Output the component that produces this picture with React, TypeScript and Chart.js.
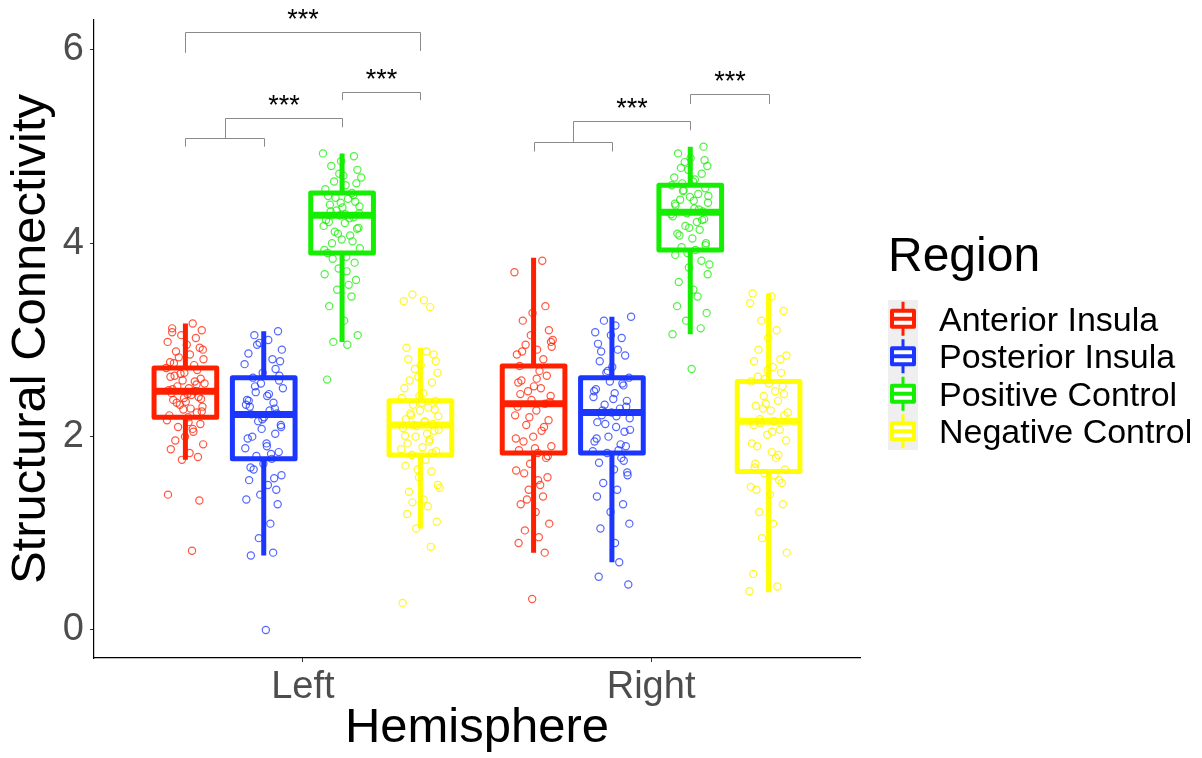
import React, { useEffect, useRef } from 'react';
import { Chart, registerables } from 'chart.js';

Chart.register(...registerables);

const hemispheres = ['Left', 'Right'];
const regions = ['Anterior Insula', 'Posterior Insula', 'Positive Control', 'Negative Control'];
const regionColors = ['#ff2000', '#1a36ff', '#14ee00', '#ffff00'];
const pointColors = ['rgba(255,32,0,0.75)', 'rgba(26,54,255,0.75)', 'rgba(20,238,0,0.75)', 'rgba(255,245,0,0.85)'];
const dodgeOffsets = [-0.3375, -0.1125, 0.1125, 0.3375];
const yTicks = [0, 2, 4, 6];

// box statistics, [region][hemisphere]
const whiskerLow = [[1.76, 0.80], [0.77, 0.70], [2.98, 3.06], [1.05, 0.39]];
const quartile1 = [[2.20, 1.83], [1.77, 1.83], [3.90, 3.93], [1.81, 1.64]];
const medians = [[2.47, 2.34], [2.23, 2.25], [4.29, 4.32], [2.12, 2.16]];
const quartile3 = [[2.71, 2.73], [2.61, 2.61], [4.52, 4.60], [2.37, 2.57]];
const whiskerHigh = [[3.17, 3.85], [3.09, 3.24], [4.93, 5.00], [2.92, 3.48]];

// individual observations
const leftAnterior = [3.17, 3.12, 3.10, 3.05, 3.02, 2.98, 2.95, 2.92, 2.88, 2.85, 2.82, 2.80, 2.77, 2.74, 2.71, 2.69, 2.66, 2.63, 2.60, 2.58, 2.55, 2.52, 2.50, 2.48, 2.47, 2.45, 2.43, 2.41, 2.38, 2.36, 2.33, 2.31, 2.28, 2.25, 2.22, 2.20, 2.17, 2.13, 2.10, 2.05, 2.00, 1.96, 1.92, 1.87, 1.83, 1.79, 1.76, 1.40, 1.34, 0.82, 2.65, 2.57, 2.49, 2.44, 2.39, 2.35, 2.29, 2.62, 2.54, 2.40, 2.90, 2.76, 2.15, 2.08, 3.08, 2.26];
const rightAnterior = [3.82, 3.70, 3.35, 3.28, 3.20, 3.10, 3.05, 3.00, 2.95, 2.90, 2.85, 2.80, 2.73, 2.68, 2.63, 2.58, 2.52, 2.47, 2.42, 2.38, 2.34, 2.31, 2.27, 2.22, 2.17, 2.12, 2.06, 2.00, 1.95, 1.90, 1.86, 1.83, 1.78, 1.72, 1.65, 1.58, 1.50, 1.45, 1.38, 1.30, 1.22, 1.10, 1.03, 0.96, 0.90, 0.80, 0.32, 2.98, 2.88, 2.60, 2.50, 2.44, 2.36, 2.20, 2.10, 1.98, 1.88, 1.80, 1.62, 1.55, 1.35, 2.93, 2.56];
const leftPosterior = [3.09, 3.05, 3.00, 2.95, 2.90, 2.86, 2.80, 2.75, 2.70, 2.66, 2.61, 2.58, 2.55, 2.50, 2.46, 2.42, 2.38, 2.35, 2.31, 2.27, 2.24, 2.23, 2.20, 2.16, 2.12, 2.08, 2.03, 1.98, 1.93, 1.88, 1.84, 1.80, 1.77, 1.72, 1.66, 1.60, 1.55, 1.50, 1.45, 1.40, 1.35, 1.30, 1.10, 0.95, 0.80, 0.77, 0.00, 2.63, 2.52, 2.44, 2.37, 2.29, 2.18, 2.10, 2.00, 1.90, 1.82, 1.68, 2.78, 2.97, 1.57, 2.33];
const rightPosterior = [3.24, 3.20, 3.15, 3.08, 3.02, 2.96, 2.90, 2.84, 2.78, 2.72, 2.66, 2.61, 2.57, 2.53, 2.49, 2.45, 2.41, 2.37, 2.33, 2.29, 2.25, 2.22, 2.19, 2.15, 2.10, 2.05, 2.00, 1.95, 1.90, 1.86, 1.83, 1.78, 1.73, 1.66, 1.60, 1.52, 1.45, 1.38, 1.30, 1.22, 1.10, 1.05, 0.90, 0.70, 0.55, 0.47, 2.68, 2.55, 2.47, 2.39, 2.31, 2.27, 2.21, 2.13, 2.07, 1.98, 1.92, 1.85, 1.75, 3.05, 2.88, 1.63];
const leftPositive = [4.93, 4.90, 4.85, 4.80, 4.76, 4.72, 4.68, 4.64, 4.60, 4.56, 4.52, 4.49, 4.46, 4.43, 4.40, 4.37, 4.34, 4.31, 4.29, 4.27, 4.24, 4.21, 4.18, 4.15, 4.12, 4.08, 4.04, 4.00, 3.95, 3.90, 3.86, 3.80, 3.74, 3.68, 3.62, 3.57, 3.52, 3.45, 3.35, 3.20, 3.05, 2.98, 2.95, 2.59, 4.50, 4.42, 4.38, 4.33, 4.30, 4.26, 4.22, 4.16, 4.10, 4.02, 3.93, 4.70, 4.62, 3.84, 3.71, 4.47];
const rightPositive = [5.00, 4.93, 4.88, 4.84, 4.80, 4.76, 4.72, 4.68, 4.64, 4.60, 4.57, 4.54, 4.51, 4.48, 4.45, 4.42, 4.39, 4.36, 4.33, 4.31, 4.28, 4.25, 4.22, 4.18, 4.14, 4.10, 4.05, 4.00, 3.96, 3.93, 3.88, 3.82, 3.75, 3.68, 3.60, 3.52, 3.45, 3.35, 3.28, 3.20, 3.12, 3.06, 2.70, 4.86, 4.78, 4.66, 4.55, 4.49, 4.41, 4.35, 4.30, 4.24, 4.16, 4.08, 3.98, 3.90, 3.78, 4.62, 4.44];
const leftNegative = [3.47, 3.41, 3.40, 3.34, 2.92, 2.88, 2.85, 2.80, 2.74, 2.70, 2.66, 2.62, 2.56, 2.50, 2.45, 2.40, 2.37, 2.33, 2.30, 2.27, 2.24, 2.21, 2.18, 2.15, 2.13, 2.11, 2.09, 2.06, 2.03, 2.00, 1.97, 1.93, 1.89, 1.85, 1.81, 1.76, 1.70, 1.64, 1.58, 1.50, 1.43, 1.35, 1.28, 1.20, 1.12, 1.05, 0.86, 0.28, 2.35, 2.28, 2.22, 2.16, 2.12, 2.07, 2.01, 1.95, 1.87, 1.83, 2.42, 2.58, 2.78, 1.66, 1.47, 1.32];
const rightNegative = [3.48, 3.45, 3.38, 3.30, 3.20, 3.10, 3.02, 2.90, 2.84, 2.78, 2.72, 2.66, 2.60, 2.57, 2.52, 2.47, 2.42, 2.37, 2.32, 2.27, 2.22, 2.18, 2.16, 2.12, 2.07, 2.02, 1.96, 1.90, 1.84, 1.78, 1.72, 1.66, 1.62, 1.55, 1.48, 1.40, 1.30, 1.22, 1.10, 0.95, 0.80, 0.58, 0.45, 0.40, 2.80, 2.69, 2.62, 2.44, 2.34, 2.25, 2.14, 2.05, 1.93, 1.81, 1.68, 1.60, 1.52, 1.45, 2.55, 2.29];
const pointsByRegion = [
  [leftAnterior, rightAnterior],
  [leftPosterior, rightPosterior],
  [leftPositive, rightPositive],
  [leftNegative, rightNegative],
];
// horizontal jitter of the observations (hemisphere units)
const jitter = [0.021, -0.038, 0.047, -0.012, 0.030, -0.051, 0.004, 0.041, -0.027, 0.013, -0.019, 0.052, -0.044, 0.025, -0.055, 0.034, -0.003, -0.031, 0.044, -0.008, 0.055, -0.023, 0.010, -0.048, 0.028, -0.040, 0.017, 0.038, -0.035, 0.001, -0.016, 0.049, -0.006, 0.033, -0.046, 0.008, -0.053, 0.043, -0.021, 0.023, -0.001, -0.029, 0.051, -0.042, 0.012, 0.036, -0.010, -0.050, 0.040, 0.019, -0.014, 0.027, -0.037, 0.006, 0.045, -0.025, 0.015, -0.043, 0.032, -0.004, 0.050, -0.033, 0.009];

// significance brackets (region index along the dodge, y in data units)
const bracketHemi = [0, 0, 0, 0, 1, 1, 1];
const bracketFrom = [0, 0.5, 2, 0, 0, 0.5, 2];
const bracketTo = [1, 2, 3, 3, 1, 2, 3];
const bracketY = [5.09, 5.30, 5.57, 6.19, 5.05, 5.26, 5.54];
const bracketLeftEnd = [5.00, 5.09, 5.48, 5.97, 4.95, 5.05, 5.44];
const bracketRightEnd = [5.00, 5.20, 5.48, 5.99, 4.95, 5.17, 5.44];
const bracketLabel = ['', '***', '***', '***', '', '***', '***'];

const FONT = "'Liberation Sans', Arial, Helvetica, sans-serif";
const boxWidth = 0.18;

const dodgeAt = (r: number) => dodgeOffsets[0] + r * (dodgeOffsets[1] - dodgeOffsets[0]);

const boxPlugin = {
  id: 'boxes',
  beforeDatasetsDraw(chart: any) {
    const { ctx, scales } = chart;
    const x = scales.x;
    const y = scales.y;
    ctx.save();
    const half = (x.getPixelForValue(boxWidth) - x.getPixelForValue(0)) / 2;
    regions.forEach((_, r) => {
      hemispheres.forEach((_, h) => {
        const cx = x.getPixelForValue(h + 1 + dodgeOffsets[r]);
        const pLow = y.getPixelForValue(whiskerLow[r][h]);
        const pQ1 = y.getPixelForValue(quartile1[r][h]);
        const pMed = y.getPixelForValue(medians[r][h]);
        const pQ3 = y.getPixelForValue(quartile3[r][h]);
        const pHigh = y.getPixelForValue(whiskerHigh[r][h]);
        ctx.strokeStyle = regionColors[r];
        ctx.lineCap = 'butt';
        ctx.lineJoin = 'round';
        ctx.lineWidth = 5;
        ctx.beginPath();
        ctx.moveTo(cx, pHigh);
        ctx.lineTo(cx, pQ3);
        ctx.moveTo(cx, pQ1);
        ctx.lineTo(cx, pLow);
        ctx.stroke();
        ctx.strokeRect(cx - half, pQ3, 2 * half, pQ1 - pQ3);
        ctx.lineWidth = 7;
        ctx.beginPath();
        ctx.moveTo(cx - half, pMed);
        ctx.lineTo(cx + half, pMed);
        ctx.stroke();
      });
    });
    ctx.restore();
  },
};

const bracketPlugin = {
  id: 'brackets',
  afterDatasetsDraw(chart: any) {
    const { ctx, scales } = chart;
    const x = scales.x;
    const y = scales.y;
    ctx.save();
    ctx.strokeStyle = '#8a8a8a';
    ctx.lineWidth = 1;
    ctx.fillStyle = '#000';
    ctx.font = `27px ${FONT}`;
    ctx.textAlign = 'center';
    ctx.textBaseline = 'alphabetic';
    bracketY.forEach((by, i) => {
      const base = bracketHemi[i] + 1;
      const x1 = Math.round(x.getPixelForValue(base + dodgeAt(bracketFrom[i]))) + 0.5;
      const x2 = Math.round(x.getPixelForValue(base + dodgeAt(bracketTo[i]))) + 0.5;
      const py = Math.round(y.getPixelForValue(by)) + 0.5;
      ctx.beginPath();
      ctx.moveTo(x1, y.getPixelForValue(bracketLeftEnd[i]));
      ctx.lineTo(x1, py);
      ctx.lineTo(x2, py);
      ctx.lineTo(x2, y.getPixelForValue(bracketRightEnd[i]));
      ctx.stroke();
      if (bracketLabel[i]) {
        ctx.fillText(bracketLabel[i], (x1 + x2) / 2, py - 5);
      }
    });
    ctx.restore();
  },
};

const legendPlugin = {
  id: 'regionLegend',
  afterDraw(chart: any) {
    const { ctx } = chart;
    ctx.save();
    ctx.fillStyle = '#000';
    ctx.textAlign = 'left';
    ctx.textBaseline = 'alphabetic';
    ctx.font = `48px ${FONT}`;
    ctx.fillText('Region', 888, 271);
    const keyTop = 300;
    const keyH = 37.5;
    ctx.fillStyle = '#efefef';
    ctx.fillRect(888, keyTop, 30, keyH * regions.length);
    regions.forEach((name, i) => {
      const cy = keyTop + keyH * (i + 0.5);
      const cx = 903;
      ctx.strokeStyle = regionColors[i];
      ctx.lineWidth = 3;
      ctx.beginPath();
      ctx.moveTo(cx, cy - 17);
      ctx.lineTo(cx, cy - 8);
      ctx.moveTo(cx, cy + 8);
      ctx.lineTo(cx, cy + 17);
      ctx.stroke();
      ctx.fillStyle = '#ffffff';
      ctx.fillRect(892, cy - 8, 22, 16);
      ctx.lineWidth = 4;
      ctx.lineJoin = 'round';
      ctx.strokeRect(892, cy - 8, 22, 16);
      ctx.beginPath();
      ctx.moveTo(892, cy);
      ctx.lineTo(914, cy);
      ctx.stroke();
      ctx.fillStyle = '#000';
      ctx.font = `34px ${FONT}`;
      ctx.fillText(name, 939, cy + 12);
    });
    ctx.restore();
  },
};

export default function App() {
  const canvasRef = useRef<HTMLCanvasElement | null>(null);

  useEffect(() => {
    const canvas = canvasRef.current;
    if (!canvas) return;
    const datasets = regions.map((name, r) => {
      const data: { x: number; y: number }[] = [];
      hemispheres.forEach((_, h) => {
        pointsByRegion[r][h].forEach((v, i) => {
          data.push({
            x: h + 1 + dodgeOffsets[r] + jitter[(i + r * 7 + h * 13) % jitter.length],
            y: v,
          });
        });
      });
      return {
        type: 'scatter' as const,
        label: name,
        data,
        showLine: false,
        pointStyle: 'circle',
        pointRadius: 3.6,
        pointBorderWidth: 1.2,
        pointBackgroundColor: 'rgba(0,0,0,0)',
        pointBorderColor: pointColors[r],
        borderColor: pointColors[r],
        backgroundColor: 'rgba(0,0,0,0)',
      };
    });

    const chart = new Chart(canvas, {
      type: 'scatter',
      data: { datasets },
      plugins: [boxPlugin, bracketPlugin, legendPlugin],
      options: {
        animation: false,
        responsive: false,
        devicePixelRatio: 1,
        layout: { padding: { left: 0, right: 342, top: 20, bottom: 0 } },
        plugins: {
          legend: { display: false },
          tooltip: { enabled: false },
        },
        scales: {
          x: {
            type: 'linear',
            min: 0.4,
            max: 2.6,
            afterBuildTicks: (scale: any) => {
              scale.ticks = hemispheres.map((_, i) => ({ value: i + 1 }));
            },
            afterFit: (scale: any) => {
              scale.height = 100;
              scale.paddingLeft = 0;
              scale.paddingRight = 0;
            },
            ticks: {
              callback: (v: any) => hemispheres[Math.round(Number(v)) - 1] ?? '',
              font: { family: FONT, size: 38 },
              color: '#4d4d4d',
              padding: 3,
              maxRotation: 0,
              autoSkip: false,
            },
            grid: {
              drawOnChartArea: false,
              drawTicks: true,
              tickLength: 4,
              tickColor: '#333333',
            },
            border: { display: true, color: '#000000', width: 1.2 },
            title: {
              display: true,
              text: 'Hemisphere',
              color: '#000000',
              font: { family: FONT, size: 49 },
              padding: { top: 0, bottom: 0 },
            },
          },
          y: {
            type: 'linear',
            min: -0.29,
            max: 6.31,
            afterBuildTicks: (scale: any) => {
              scale.ticks = yTicks.map((v) => ({ value: v }));
            },
            afterFit: (scale: any) => {
              scale.width = 94;
              scale.paddingTop = 0;
              scale.paddingBottom = 0;
            },
            ticks: {
              font: { family: FONT, size: 38 },
              color: '#4d4d4d',
              padding: 6,
            },
            grid: {
              drawOnChartArea: false,
              drawTicks: true,
              tickLength: 4,
              tickColor: '#333333',
            },
            border: { display: true, color: '#000000', width: 1.2 },
            title: {
              display: true,
              text: 'Structural Connectivity',
              color: '#000000',
              font: { family: FONT, size: 49 },
              padding: { top: 2, bottom: 0 },
            },
          },
        },
      },
    });
    return () => chart.destroy();
  }, []);

  return (
    <div style={{ position: 'fixed', left: 0, top: 0, width: 1202, height: 758, background: '#fff' }}>
      <canvas ref={canvasRef} width={1202} height={758} style={{ display: 'block', width: 1202, height: 758 }} />
    </div>
  );
}
